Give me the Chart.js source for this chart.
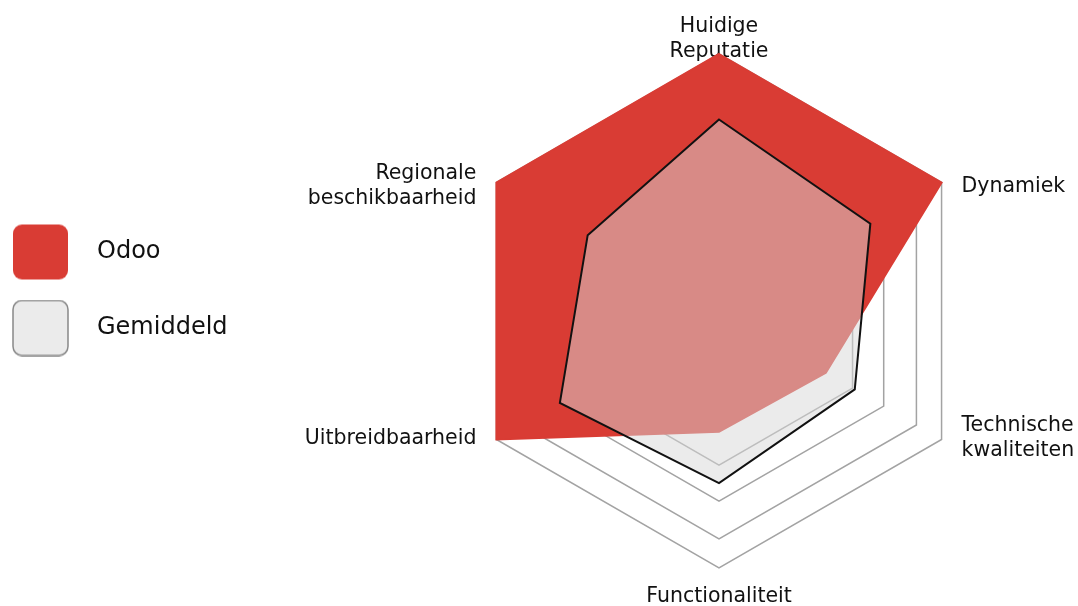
<!DOCTYPE html>
<html>
<head>
<meta charset="utf-8">
<script src="https://cdn.jsdelivr.net/npm/chart.js@4.4.1/dist/chart.umd.min.js"></script>
<style>
  html, body { margin: 0; padding: 0; background: #fff; }
</style>
</head>
<body>
<canvas id="myChart" width="1078" height="606"></canvas>
<script>
// categories (multi-line labels as arrays)
const categories = [
  ["Huidige", "Reputatie"],
  "Dynamiek",
  ["Technische", "kwaliteiten"],
  "Functionaliteit",
  "Uitbreidbaarheid",
  ["Regionale", "beschikbaarheid"]
];
const seriesNames = ["Odoo", "Gemiddeld"];
const odooValues = [10, 10, 4.8, 4.7, 10, 10];
const gemiddeldValues = [7.45, 6.8, 6.1, 6.7, 7.15, 5.9];
// grid rings (first one is skipped by chart.js)
const gridSteps = [0, 6, 7.4, 8.87, 10];

Chart.defaults.font.family = "'DejaVu Sans', sans-serif";

// rounded square swatch for legend, box sits at the left of the canvas
function legendSwatch(fill, stroke) {
  const c = document.createElement("canvas");
  c.width = 113;
  c.height = 57;
  const g = c.getContext("2d");
  g.beginPath();
  g.roundRect(1, 1, 55, 55, 9);
  g.fillStyle = fill;
  g.fill();
  if (stroke) {
    g.lineWidth = 1.5;
    g.strokeStyle = stroke;
    g.stroke();
  }
  return c;
}

// axis labels drawn beside each spoke tip, under the datasets
const axisLabels = {
  id: "axisLabels",
  beforeDatasetsDraw(chart) {
    const scale = chart.scales.r;
    const ctx = chart.ctx;
    const lh = 25;
    ctx.save();
    ctx.font = "20.5px 'DejaVu Sans', sans-serif";
    ctx.fillStyle = "#111";
    ctx.textBaseline = "alphabetic";
    categories.forEach(function (label, i) {
      const lines = [].concat(label);
      const p = scale.getPointPosition(i, scale.drawingArea);
      const dx = p.x - scale.xCenter;
      const dy = p.y - scale.yCenter;
      let x = p.x;
      let y0;
      if (Math.abs(dx) < 1) {
        ctx.textAlign = "center";
        y0 = dy < 0 ? p.y + 3 - (lines.length - 1) * lh : p.y + 34;
      } else {
        ctx.textAlign = dx > 0 ? "left" : "right";
        x += dx > 0 ? 20 : -20;
        y0 = p.y + (dy < 0 ? 9 : 4) - ((lines.length - 1) * lh) / 2;
      }
      lines.forEach(function (t, k) {
        ctx.fillText(t, x, y0 + k * lh);
      });
    });
    ctx.restore();
  }
};

const ctx = document.getElementById("myChart").getContext("2d");
new Chart(ctx, {
  type: "radar",
  data: {
    labels: categories,
    datasets: [
      {
        label: seriesNames[0],
        data: odooValues,
        order: 2,
        fill: true,
        backgroundColor: "#d93c34",
        borderColor: "#d93c34",
        borderWidth: 2,
        pointRadius: 0,
        pointHoverRadius: 0,
        pointStyle: legendSwatch("#d93c34", null)
      },
      {
        label: seriesNames[1],
        data: gemiddeldValues,
        order: 1,
        fill: true,
        backgroundColor: "rgba(215, 215, 215, 0.5)",
        borderColor: "#111",
        borderWidth: 2,
        pointRadius: 0,
        pointHoverRadius: 0,
        pointStyle: legendSwatch("#ebebeb", "#888")
      }
    ]
  },
  options: {
    responsive: false,
    animation: false,
    events: [],
    layout: {
      padding: { left: 0, top: 0, right: 0, bottom: 26 }
    },
    scales: {
      r: {
        min: 0,
        max: 10,
        afterSetDimensions: function (scale) {
          scale.xCenter = 719;
          scale.yCenter = 311;
          scale.drawingArea = 257;
        },
        afterBuildTicks: function (scale) {
          scale.ticks = gridSteps.map(function (v) {
            return { value: v };
          });
        },
        ticks: { display: false },
        pointLabels: { display: false },
        angleLines: { display: false },
        grid: { color: "#a3a3a3", lineWidth: 1.5 }
      }
    },
    plugins: {
      tooltip: { enabled: false },
      legend: {
        position: "left",
        align: "center",
        labels: {
          usePointStyle: true,
          pointStyleWidth: 33,
          padding: 52,
          color: "#111",
          font: { size: 24 },
          sort: function (a, b) {
            return a.datasetIndex - b.datasetIndex;
          }
        }
      }
    }
  },
  plugins: [axisLabels]
});
</script>
</body>
</html>
